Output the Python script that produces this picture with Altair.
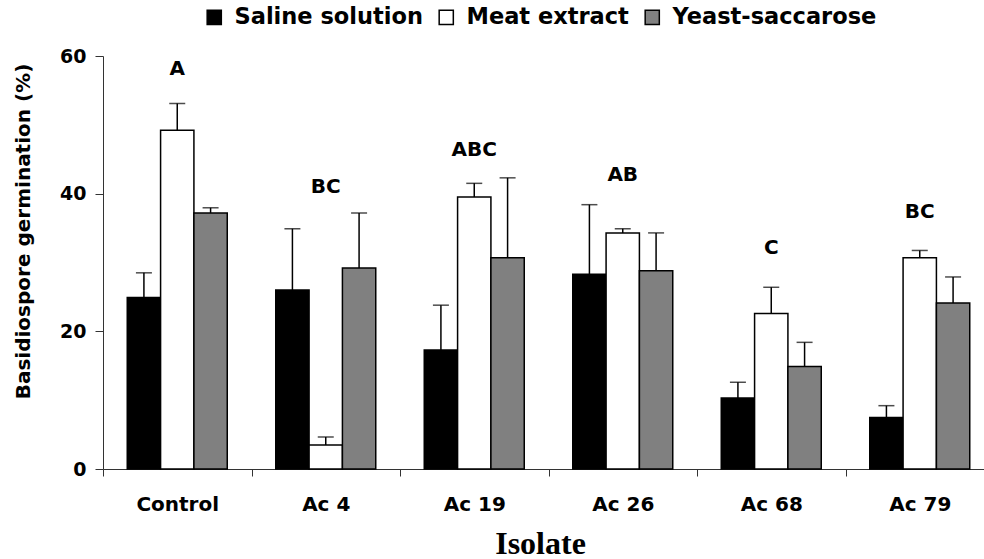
import altair as alt
import pandas as pd

# Germination of basidiospores (%) per isolate and culture medium
isolates = ["Control", "Ac 4", "Ac 19", "Ac 26", "Ac 68", "Ac 79"]
media = ["Saline solution", "Meat extract", "Yeast-saccarose"]

saline = [24.9, 26.0, 17.3, 28.3, 10.3, 7.5]
saline_err = [3.6, 8.9, 6.5, 10.1, 2.3, 1.7]
meat = [49.2, 3.5, 39.5, 34.3, 22.6, 30.7]
meat_err = [3.9, 1.15, 2.0, 0.6, 3.8, 1.05]
yeast = [37.2, 29.2, 30.7, 28.8, 14.9, 24.1]
yeast_err = [0.75, 8.0, 11.6, 5.5, 3.5, 3.8]

# Significance letters and the height at which each is written
letters = ["A", "BC", "ABC", "AB", "C", "BC"]
letter_y = [58.1, 41.0, 46.3, 42.7, 32.1, 37.4]

rows = []
for med, vals, errs in [(media[0], saline, saline_err),
                        (media[1], meat, meat_err),
                        (media[2], yeast, yeast_err)]:
    for iso, v, e in zip(isolates, vals, errs):
        rows.append({"isolate": iso, "medium": med, "value": v, "err": e})
df = pd.DataFrame(rows)
df_letters = pd.DataFrame({"isolate": isolates, "letter": letters, "ly": letter_y})

SANS = "DejaVu Sans"

x_enc = alt.X(
    "isolate:N",
    sort=isolates,
    scale=alt.Scale(paddingInner=0, paddingOuter=0, range=[0, 891]),
    axis=alt.Axis(
        title="Isolate",
        titleFont="Liberation Serif", titleFontSize=32, titleFontWeight="bold",
        titleX=437, titleY=84, titleAlign="center", titleBaseline="alphabetic",
        labelAngle=0, labelFont=SANS, labelFontWeight="bold", labelFontSize=20,
        labelColor="black", labelPadding=18,
        tickBand="extent", tickSize=7, tickColor="#333", domainColor="#333",
        tickWidth=1, domainWidth=1,
    ),
)
xoff = alt.XOffset("medium:N", sort=media,
                   scale=alt.Scale(paddingInner=0, paddingOuter=0.7275))

y_scale = alt.Scale(domain=[0, 60], nice=False)
y_axis = alt.Axis(
    title="Basidiospore germination (%)",
    titleFont=SANS, titleFontSize=20, titleFontWeight="bold", titleColor="black",
    titleAngle=-90, titleX=-80, titleY=175, titleAlign="center", titleBaseline="middle",
    values=[0, 20, 40, 60], grid=False,
    labelFont=SANS, labelFontWeight="bold", labelFontSize=19, labelColor="black",
    labelPadding=9, tickSize=8, tickColor="#333", domainColor="#333",
    tickWidth=1, domainWidth=1,
)

base = alt.Chart(df).transform_calculate(top="datum.value + datum.err")

bars = base.mark_bar(stroke="black", strokeWidth=1.5).encode(
    x=x_enc,
    xOffset=xoff,
    y=alt.Y("value:Q", scale=y_scale, axis=y_axis),
    fill=alt.Fill(
        "medium:N", sort=media,
        scale=alt.Scale(domain=media, range=["#000000", "#ffffff", "#808080"]),
        legend=alt.Legend(
            title=None, orient="none", direction="horizontal",
            legendX=100, legendY=-50,
            symbolType="square", symbolSize=200,
            symbolStrokeColor="black", symbolStrokeWidth=1.5,
            labelFont=SANS, labelFontSize=22.5, labelFontWeight="bold",
            labelColor="black", labelLimit=500, labelOffset=9,
            columnPadding=12,
        ),
    ),
)

whiskers = base.mark_rule(color="black", strokeWidth=1.5).encode(
    x=alt.X("isolate:N", sort=isolates), xOffset=xoff,
    y=alt.Y("value:Q", scale=y_scale), y2="top:Q",
)

caps = base.mark_tick(color="black", thickness=1.5, size=16, orient="horizontal").encode(
    x=alt.X("isolate:N", sort=isolates), xOffset=xoff,
    y=alt.Y("top:Q", scale=y_scale),
)

labels = alt.Chart(df_letters).mark_text(
    font=SANS, fontWeight="bold", fontSize=20, color="black", baseline="middle"
).encode(
    x=alt.X("isolate:N", sort=isolates),
    y=alt.Y("ly:Q", scale=y_scale),
    text="letter:N",
)

chart = alt.layer(bars, whiskers, caps, labels).properties(
    width=881, height=413,
    autosize=alt.AutoSizeParams(type="none"),
    padding={"left": 103, "top": 56, "right": 0, "bottom": 90},
    background="white",
).configure_view(stroke=None)

chart.save("out.html", embed_options={"renderer": "svg", "actions": False})
